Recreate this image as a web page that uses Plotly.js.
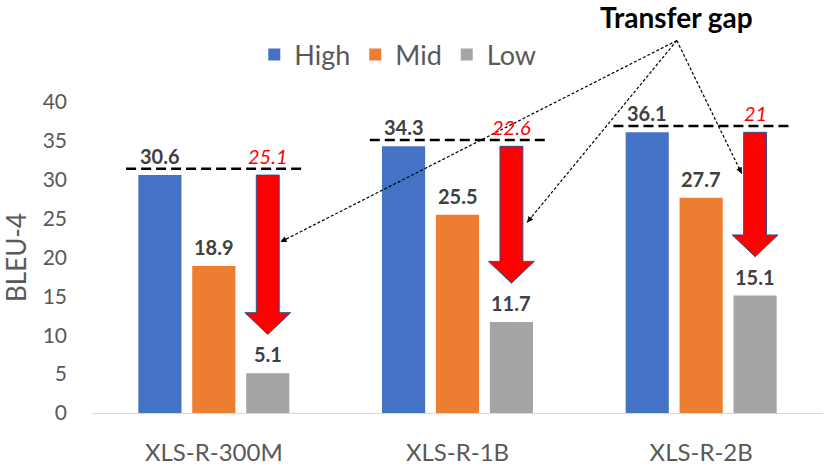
<!DOCTYPE html>
<html>
<head>
<meta charset="utf-8">
<script src="https://cdn.plot.ly/plotly-3.0.1.min.js"></script>
<style>html,body{margin:0;padding:0;background:#fff}</style>
</head>
<body>
<div id="chart" style="width:831px;height:467px"></div>
<script>
var categories = ['XLS-R-300M', 'XLS-R-1B', 'XLS-R-2B']
var high = [30.6, 34.3, 36.1]
var mid = [18.9, 25.5, 27.7]
var low = [5.1, 11.7, 15.1]
var gapLabels = ['25.1', '22.6', '21']
var yTicks = [0, 5, 10, 15, 20, 25, 30, 35, 40]

var colors = {high: '#4472C4', mid: '#ED7D31', low: '#A5A5A5'}
var FONT = 'Lato, "Open Sans", sans-serif'

var W = 831, H = 467
var margin = {l: 92, r: 8, t: 102, b: 54}
var bargap = 0.336
var slot = (1 - bargap) / 3
var xIdx = categories.map(function (c, i) { return i })

// pixels per data unit, used to aim the little arrowheads
var pxX = (W - margin.l - margin.r) / 3
var pxY = (H - margin.t - margin.b) / 40
function domX(x) { return (x + 0.5) / 3 }
function domY(y) { return y / 40 }

var traces = [
    {name: 'High', y: high, color: colors.high},
    {name: 'Mid', y: mid, color: colors.mid},
    {name: 'Low', y: low, color: colors.low}
].map(function (s) {
    return {
        type: 'bar', name: s.name, x: xIdx, y: s.y,
        marker: {color: s.color, line: {width: 0}},
        hoverinfo: 'skip'
    }
})

var shapes = []
var annotations = []

// value labels over the bars
;[high, mid, low].forEach(function (vals, k) {
    vals.forEach(function (v, i) {
        annotations.push({
            x: i + (k - 1) * slot, y: v, xref: 'x', yref: 'y',
            text: String(v), showarrow: false, yanchor: 'bottom', yshift: 5,
            font: {family: FONT, size: 20, color: '#404040', weight: 'bold'}
        })
    })
})

categories.forEach(function (c, i) {
    // dashed line at the High level
    shapes.push({
        type: 'line', xref: 'x', yref: 'y',
        x0: i - 0.36, x1: i + 0.36, y0: high[i] + 0.8, y1: high[i] + 0.8,
        line: {color: '#000', width: 2.5, dash: '10px,5px'}
    })
    // red gap arrow from High down towards Low
    var xc = i + slot
    var top = high[i], tip = low[i] + 5, neck = tip + 2.8
    var sw = 0.047, hw = 0.094
    shapes.push({
        type: 'path', xref: 'x', yref: 'y',
        path: 'M' + (xc - sw) + ',' + top + ' L' + (xc + sw) + ',' + top +
            ' L' + (xc + sw) + ',' + neck + ' L' + (xc + hw) + ',' + neck +
            ' L' + xc + ',' + tip + ' L' + (xc - hw) + ',' + neck +
            ' L' + (xc - sw) + ',' + neck + ' Z',
        fillcolor: '#FF0000', line: {color: '#2F528F', width: 1}
    })
    annotations.push({
        x: xc, y: high[i], xref: 'x', yref: 'y',
        text: gapLabels[i], showarrow: false, yanchor: 'bottom', yshift: 5,
        font: {family: FONT, size: 20, color: '#FF0000', style: 'italic'}
    })
})

// "Transfer gap" callout with dotted pointers
var vertex = {x: 1.9, y: 47.9}
var targets = [
    {x: 0 + slot + 0.052, y: 22.0},
    {x: 1 + slot + 0.064, y: 24.5},
    {x: 2 + slot - 0.055, y: 30.8}
]
targets.forEach(function (t) {
    shapes.push({
        type: 'line', xref: 'x domain', yref: 'y domain',
        x0: domX(vertex.x), y0: domY(vertex.y), x1: domX(t.x), y1: domY(t.y),
        line: {color: '#000', width: 1.2, dash: '3px,2px'}
    })
    var dx = (vertex.x - t.x) * pxX, dy = -(vertex.y - t.y) * pxY
    var len = Math.sqrt(dx * dx + dy * dy)
    annotations.push({
        x: t.x, y: t.y, xref: 'x', yref: 'y', text: '',
        showarrow: true, arrowhead: 2, arrowsize: 1, arrowwidth: 1.2,
        arrowcolor: '#000', ax: dx / len * 9, ay: dy / len * 9, standoff: 0
    })
})
annotations.push({
    x: 0.8, y: 1.273, xref: 'paper', yref: 'paper',
    xanchor: 'center', yanchor: 'middle',
    text: 'Transfer gap', showarrow: false,
    font: {family: FONT, size: 28, color: '#000', weight: 'bold'}
})

var layout = {
    width: W, height: H, margin: margin,
    paper_bgcolor: '#fff', plot_bgcolor: '#fff',
    font: {family: FONT, color: '#595959'},
    barmode: 'group', bargap: bargap, bargroupgap: 0.2,
    showlegend: true,
    legend: {
        orientation: 'h', x: 0.222, y: 1.151, xanchor: 'left', yanchor: 'middle',
        font: {family: FONT, size: 27, color: '#595959'}, bgcolor: 'rgba(0,0,0,0)'
    },
    xaxis: {
        range: [-0.5, 2.5], tickvals: xIdx, ticktext: categories,
        showgrid: false, zeroline: false, showline: true, linecolor: '#D9D9D9',
        ticks: '', ticklabelstandoff: 18,
        tickfont: {family: FONT, size: 24, color: '#595959'}
    },
    yaxis: {
        range: [0, 40], tickvals: yTicks, showgrid: false, zeroline: false,
        showline: false, ticks: '', ticklabelstandoff: 24,
        tickfont: {family: FONT, size: 21, color: '#595959'},
        title: {text: 'BLEU-4', standoff: 10, font: {family: FONT, size: 26, color: '#595959'}},
        automargin: false
    },
    shapes: shapes,
    annotations: annotations,
    hovermode: false
}

Plotly.newPlot('chart', traces, layout, {displayModeBar: false, staticPlot: true})
</script>
</body>
</html>
